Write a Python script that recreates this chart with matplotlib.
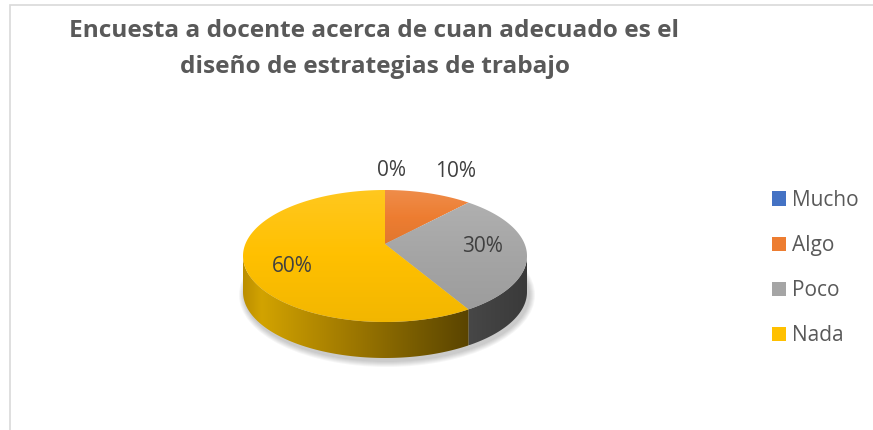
import matplotlib

matplotlib.use("Agg")
import matplotlib.pyplot as plt
import numpy as np
from matplotlib import colors as mcolors
from matplotlib.patches import Ellipse, Patch, Polygon, Rectangle

CATEGORIES = ["Mucho", "Algo", "Poco", "Nada"]
PERCENTAGES = [0, 10, 30, 60]
SLICE_COLORS = ["#4472C4", "#ED7D31", "#A5A5A5", "#FFC000"]
TITLE_LINES = ["Encuesta a docente acerca de cuan adecuado es el", "diseño de estrategias de trabajo"]

# Pie geometry, in pixel coordinates of the 873x430 canvas
W, H = 873, 430
CX, CY = 385, 256
RX, RY = 142, 66
APEX_Y = 244
DEPTH = 36

FONT = "Open Sans"


def rim(theta, drop=0.0):
    # theta in degrees, clockwise from 12 o'clock (Excel style)
    t = np.radians(theta)
    return np.column_stack([CX + RX * np.sin(t), CY - RY * np.cos(t) + drop])


def gradient_fill(ax, verts, stops, horizontal=True, zorder=2):
    poly = Polygon(verts, closed=True, facecolor="none", edgecolor="none", zorder=zorder)
    ax.add_patch(poly)
    cmap = mcolors.LinearSegmentedColormap.from_list("g", stops)
    grad = np.linspace(0, 1, 256)
    grad = grad[None, :] if horizontal else grad[:, None]
    x0, y0 = verts.min(axis=0)
    x1, y1 = verts.max(axis=0)
    im = ax.imshow(grad, cmap=cmap, extent=(x0, x1, y1, y0), aspect="auto", zorder=zorder, interpolation="bilinear")
    im.set_clip_path(poly)


def shade(color, factor):
    rgb = np.array(mcolors.to_rgb(color))
    if factor > 1:
        return tuple(rgb + (1 - rgb) * (factor - 1))
    return tuple(rgb * factor)


fig = plt.figure(figsize=(W / 100, H / 100), dpi=100)
ax = fig.add_axes([0, 0, 1, 1])
ax.set_xlim(0, W)
ax.set_ylim(H, 0)
ax.axis("off")

# Chart border (only top and left are visible in the crop)
ax.add_patch(Rectangle((10, 5), W + 20, H + 20, facecolor="white", edgecolor="#d9d9d9", lw=1.2, zorder=0))

# Soft shadow under the pie
for i in range(6):
    ax.add_patch(
        Ellipse((CX + 2, CY + DEPTH + 3), 2 * (RX + 1 + i), 2 * (RY + 1 + i), facecolor="#000000", alpha=0.035, lw=0, zorder=1)
    )

bounds = np.concatenate([[0], np.cumsum(PERCENTAGES)]) * 3.6

# Side walls (front half only), darkening from left to right
side_stops = {
    "Poco": [(0, "#474747"), (1, "#3a3a3a")],
    "Nada": [(0, "#bb8e00"), (0.08, "#d2a300"), (0.45, "#a27b00"), (0.8, "#735800"), (1, "#5a4400")],
}
for name, a0, a1, color in zip(CATEGORIES, bounds[:-1], bounds[1:], SLICE_COLORS):
    lo, hi = max(a0, 90), min(a1, 270)
    if hi <= lo:
        continue
    th = np.linspace(lo, hi, 120)
    verts = np.vstack([rim(th), rim(th[::-1], DEPTH)])
    stops = side_stops.get(name, [shade(color, 0.55), shade(color, 0.35)])
    gradient_fill(ax, verts, stops, horizontal=True, zorder=3)

# Top faces
for name, a0, a1, color in zip(CATEGORIES, bounds[:-1], bounds[1:], SLICE_COLORS):
    if a1 <= a0:
        continue
    th = np.linspace(a0, a1, 200)
    verts = np.vstack([[CX, APEX_Y], rim(th)])
    gradient_fill(ax, verts, [shade(color, 1.12), color, shade(color, 0.95)], horizontal=False, zorder=4)

# Data labels
label_nudges = [(7, 0), (14, -4), (0, -6), (0, 0)]
for pct, a0, a1, nudge in zip(PERCENTAGES, bounds[:-1], bounds[1:], label_nudges):
    mid = (a0 + a1) / 2
    px, py = rim(mid)[0]
    if pct < 15:
        x = CX + 1.29 * (px - CX)
        y = CY + 1.29 * (py - CY)
    else:
        x = CX + 0.69 * (px - CX)
        y = APEX_Y + 0.69 * (py - APEX_Y)
    ax.text(x + nudge[0], y + nudge[1], f"{pct}%", ha="center", va="center", fontsize=15,
            color="#404040", family=FONT, zorder=6)

# Title
ax.text(374, 37, TITLE_LINES[0], ha="center", va="baseline", fontsize=17.6, fontweight="bold",
        color="#595959", family=FONT)
ax.text(375, 73, TITLE_LINES[1], ha="center", va="baseline", fontsize=17.6, fontweight="bold",
        color="#595959", family=FONT)

# Legend
handles = [Patch(facecolor=c, edgecolor="none") for c in SLICE_COLORS]
fs = 15
fs_px = fs * 100 / 72
ax.legend(handles, CATEGORIES, loc="center left", bbox_to_anchor=(772 / W, 1 - 268 / H),
          frameon=False, borderpad=0, borderaxespad=0, handlelength=14 / fs_px, handleheight=14 / fs_px,
          handletextpad=0.3, labelspacing=(45 - fs_px) / fs_px,
          prop={"family": FONT, "size": fs}, labelcolor="#595959")

plt.savefig("out.png", dpi=100)
